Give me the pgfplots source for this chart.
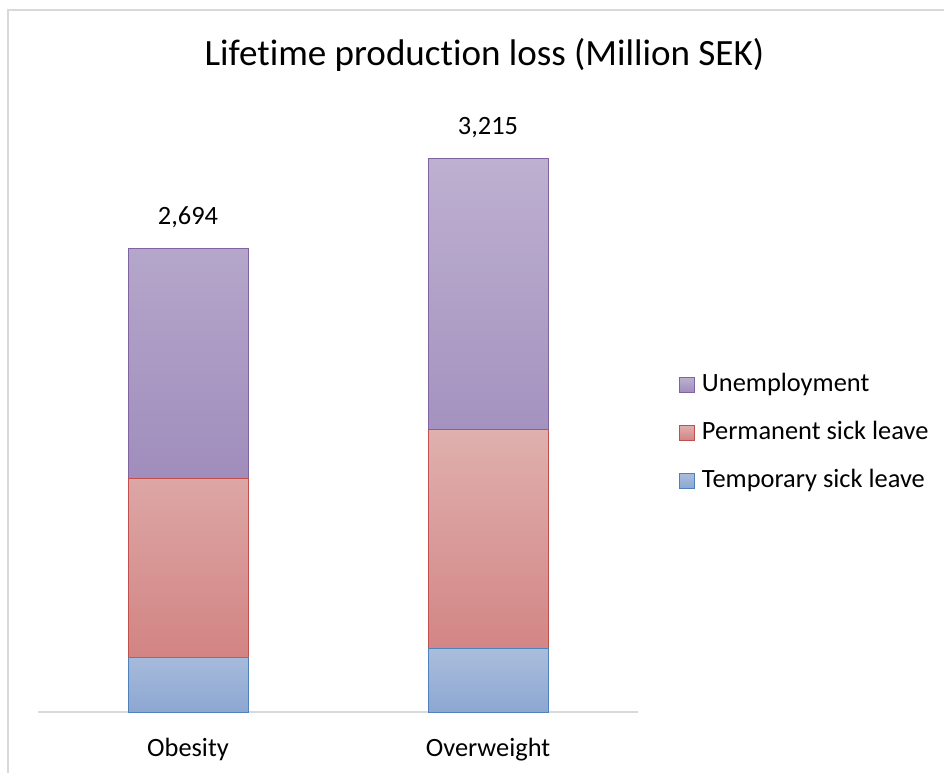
\documentclass[border=0pt]{standalone}
\usepackage{fontspec}
\setmainfont{Carlito}[Ligatures=NoCommon]
\usepackage{pgfplots}
\pgfplotsset{compat=1.18}

\definecolor{frame}{HTML}{D9D9D9}
\definecolor{purpTop}{HTML}{BDB0D0}
\definecolor{purpBot}{HTML}{A08DBC}
\definecolor{purpLine}{HTML}{8064A2}
\definecolor{redTop}{HTML}{DFB0AE}
\definecolor{redBot}{HTML}{D28483}
\definecolor{redLine}{HTML}{C0504D}
\definecolor{bluTop}{HTML}{AABDDC}
\definecolor{bluBot}{HTML}{8DA7D2}
\definecolor{bluLine}{HTML}{4F81BD}

\begin{document}
\begin{tikzpicture}[x=1bp,y=1bp]
\useasboundingbox (0,0) rectangle (944,773);
\draw[frame, line width=1.4bp] (8,0) -- (8,763) -- (950,763);
\node[anchor=base, font=\fontsize{37.2}{44}\selectfont] at (484.5,707) {Lifetime production loss (Million SEK)};

\begin{axis}[
  at={(38bp,60.7bp)}, anchor=south west,
  scale only axis,
  width=600bp, height=602.9bp,
  xmin=-0.5, xmax=1.5,
  ymin=0, ymax=3500,
  ybar stacked, bar width=0.4,
  axis y line=none,
  axis x line*=bottom,
  x axis line style={frame, line width=2bp, -},
  xtick={0,1}, xticklabels={Obesity,Overweight},
  major tick length=0pt,
  xticklabel style={anchor=base, yshift=-44bp, font=\fontsize{26.5}{32}\selectfont},
  /pgf/number format/assume math mode=true,
  /pgf/number format/1000 sep={,},
  reverse legend,
  legend cell align=left,
  legend style={draw=none, fill=none, inner sep=0pt,
    at={(1.0683,0.566)}, anchor=north west,
    row sep=22bp,
    font=\fontsize{26.5}{32}\selectfont,
    nodes={inner sep=0pt, text height=20bp, text depth=6bp},
    /tikz/every odd column/.append style={column sep=7bp}},
  legend image code/.code={\draw[#1, line width=0.8bp] (0bp,-8bp) rectangle (15bp,7bp);},
]
\addplot[draw=bluLine, line width=0.8bp, top color=bluTop, bottom color=bluBot]
  coordinates {(0,319) (1,371)};
\addlegendentry{Temporary sick leave}
\addplot[draw=redLine, line width=0.8bp, top color=redTop, bottom color=redBot]
  coordinates {(0,1039) (1,1272)};
\addlegendentry{Permanent sick leave}
\addplot[draw=purpLine, line width=0.8bp, top color=purpTop, bottom color=purpBot]
  coordinates {(0,1336) (1,1572)};
\addlegendentry{Unemployment}
% near-zero segment on top carrying the totals as labels
\addplot[draw=none, fill=none, forget plot,
  point meta=explicit, nodes near coords,
  every node near coord/.append style={anchor=base, yshift=24bp, text=black,
    font=\fontsize{26.5}{32}\selectfont}]
  coordinates {(0,0.5) [2694] (1,0.5) [3215]};
\end{axis}
\end{tikzpicture}
\end{document}
